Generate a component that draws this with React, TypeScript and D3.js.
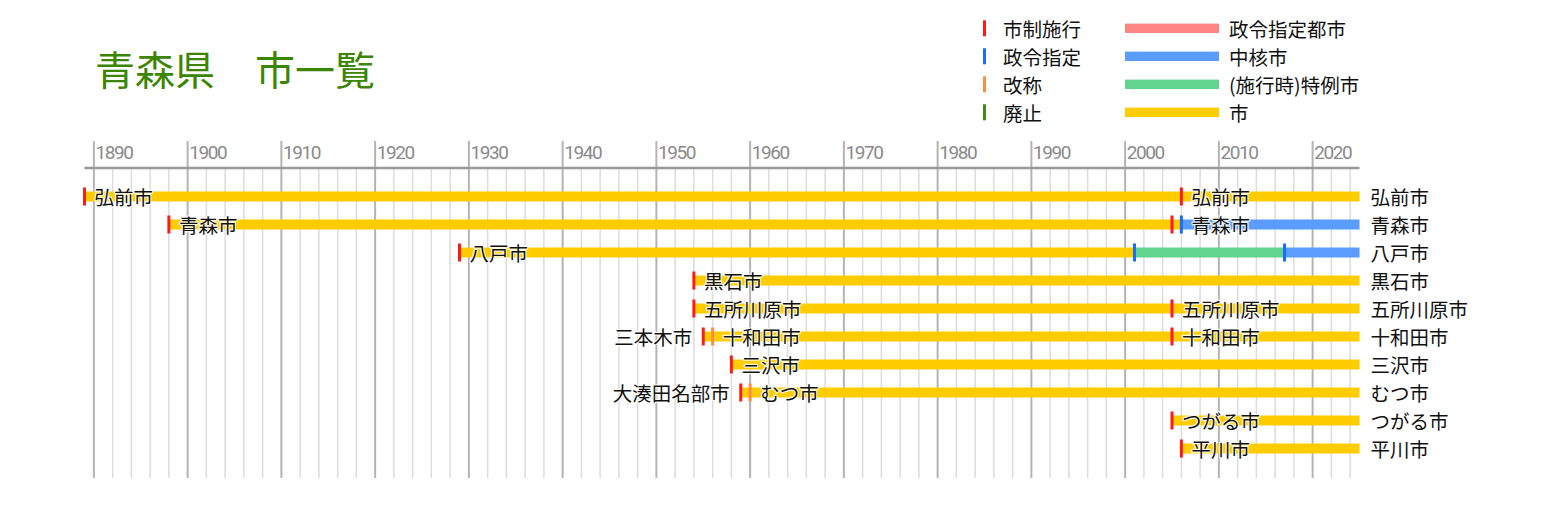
import React from "react";
import * as d3 from "d3";

const cities = ["弘前市", "青森市", "八戸市", "黒石市", "五所川原市", "十和田市", "三沢市", "むつ市", "つがる市", "平川市"];

// bar segments: city, from, to, kind
const segCity = ["弘前市", "青森市", "青森市", "八戸市", "八戸市", "八戸市", "黒石市", "五所川原市", "十和田市", "三沢市", "むつ市", "つがる市", "平川市"];
const segFrom = [1889, 1898, 2006, 1929, 2001, 2017, 1954, 1954, 1955, 1958, 1959, 2005, 2006];
const segTo = [2025, 2006, 2025, 2001, 2017, 2025, 2025, 2025, 2025, 2025, 2025, 2025, 2025];
const segKind = ["市", "市", "中核市", "市", "特例市", "中核市", "市", "市", "市", "市", "市", "市", "市"];

// events: city, year, kind
const evCity = ["弘前市", "弘前市", "青森市", "青森市", "青森市", "八戸市", "八戸市", "八戸市", "黒石市", "五所川原市", "五所川原市", "十和田市", "十和田市", "十和田市", "三沢市", "むつ市", "むつ市", "つがる市", "平川市"];
const evYear = [1889, 2006, 1898, 2005, 2006, 1929, 2001, 2017, 1954, 1954, 2005, 1955, 1956, 2005, 1958, 1959, 1960, 2005, 2006];
const evKind = ["施行", "施行", "施行", "施行", "指定", "施行", "指定", "指定", "施行", "施行", "施行", "施行", "改称", "施行", "施行", "施行", "改称", "施行", "施行"];

// inline labels: city, year, text, side
const lbCity = ["弘前市", "弘前市", "青森市", "青森市", "八戸市", "黒石市", "五所川原市", "五所川原市", "十和田市", "十和田市", "十和田市", "三沢市", "むつ市", "むつ市", "つがる市", "平川市"];
const lbYear = [1889, 2006, 1898, 2006, 1929, 1954, 1954, 2005, 1955, 1956, 2005, 1958, 1959, 1960, 2005, 2006];
const lbText = ["弘前市", "弘前市", "青森市", "青森市", "八戸市", "黒石市", "五所川原市", "五所川原市", "三本木市", "十和田市", "十和田市", "三沢市", "大湊田名部市", "むつ市", "つがる市", "平川市"];
const lbSide = ["r", "r", "r", "r", "r", "r", "r", "r", "l", "r", "r", "r", "l", "r", "r", "r"];

const majorTicks = [1890, 1900, 1910, 1920, 1930, 1940, 1950, 1960, 1970, 1980, 1990, 2000, 2010, 2020];
const minorTicks = d3.range(1890, 2025, 2);

const markerLegend = ["市制施行", "政令指定", "改称", "廃止"];
const barLegend = ["政令指定都市", "中核市", "(施行時)特例市", "市"];

const markerColor: Record<string, string> = { 施行: "#ff1a1a", 指定: "#1a6cff", 改称: "#ff8c42", 廃止: "#3d8c1a" };
const markerLegendColor = ["#ff1a1a", "#1a6cff", "#ff8c42", "#3d8c1a"];
const barColor: Record<string, string> = { 政令指定都市: "#ff8585", 中核市: "#5a9cff", 特例市: "#62d490", 市: "#ffcc00" };
const barLegendColor = ["#ff8585", "#5a9cff", "#62d490", "#ffcc00"];

const FONT = "'Noto Sans CJK JP', 'Noto Sans', sans-serif";
const FS = 19.5;

export default function App() {
  const x = d3.scaleLinear().domain([1889, 2025]).range([84.5, 1359.5]);
  const y = d3.scalePoint<string>().domain(cities).range([196.5, 448.5]);
  const legY = d3.scalePoint<string>().domain(markerLegend).range([28.3, 112.3]);
  const legY2 = d3.scalePoint<string>().domain(barLegend).range([28.3, 112.3]);

  const halo = { stroke: "#fff", strokeWidth: 2.5, strokeLinejoin: "round" as const, paintOrder: "stroke" as const, strokeOpacity: 0.85 };

  return (
    <svg width={1547} height={506} style={{ position: "absolute", left: 0, top: 0, background: "#fff" }} fontFamily={FONT}>
      <text x={95} y={84.5} fontSize={40} fill="#3b8500">青森県　市一覧</text>

      {/* legend */}
      {markerLegend.map((t, i) => (
        <g key={t}>
          <rect x={983} y={legY(t)! - 8} width={3} height={16} fill={markerLegendColor[i]} />
          <text x={1003} y={legY(t)! + 9} fontSize={FS} fill="#111">{t}</text>
        </g>
      ))}
      {barLegend.map((t, i) => (
        <g key={t}>
          <rect x={1125} y={legY2(t)! - 4.7} width={94} height={9.4} fill={barLegendColor[i]} />
          <text x={1229} y={legY2(t)! + 9} fontSize={FS} fill="#111">{t}</text>
        </g>
      ))}

      {/* grid */}
      {minorTicks.filter((t) => t % 10 !== 0).map((t) => (
        <line key={"m" + t} x1={x(t)} x2={x(t)} y1={169} y2={478} stroke="#dcdcdc" strokeWidth={1.5} />
      ))}
      {majorTicks.map((t) => (
        <g key={"M" + t}>
          <line x1={x(t)} x2={x(t)} y1={141} y2={478} stroke="#b4b4b4" strokeWidth={2} />
          <text x={x(t) + 1.5} y={158.7} fontSize={19} fill="#8a8a8a" fontFamily="Roboto, sans-serif" letterSpacing={-1.4}>{t}</text>
        </g>
      ))}
      <line x1={x(1889)} x2={x(2025)} y1={168} y2={168} stroke="#999" strokeWidth={2.5} />

      {/* bars */}
      {segCity.map((c, i) => (
        <rect key={"s" + i} x={x(segFrom[i])} y={y(c)! - 5} width={x(segTo[i]) - x(segFrom[i])} height={10} fill={barColor[segKind[i]]} />
      ))}

      {/* events */}
      {evCity.map((c, i) => (
        <rect key={"e" + i} x={x(evYear[i]) - 1.5} y={y(c)! - 9} width={3} height={18} fill={markerColor[evKind[i]]} />
      ))}

      {/* inline labels */}
      {lbCity.map((c, i) => (
        <text key={"l" + i} x={lbSide[i] === "r" ? x(lbYear[i]) + 10 : x(lbYear[i]) - 11} y={y(c)! + 8.5} fontSize={FS} fill="#111"
          textAnchor={lbSide[i] === "r" ? "start" : "end"} {...halo}>{lbText[i]}</text>
      ))}

      {/* right labels */}
      {cities.map((c) => (
        <text key={"r" + c} x={x(2025) + 11} y={y(c)! + 8.5} fontSize={FS} fill="#111">{c}</text>
      ))}
    </svg>
  );
}
